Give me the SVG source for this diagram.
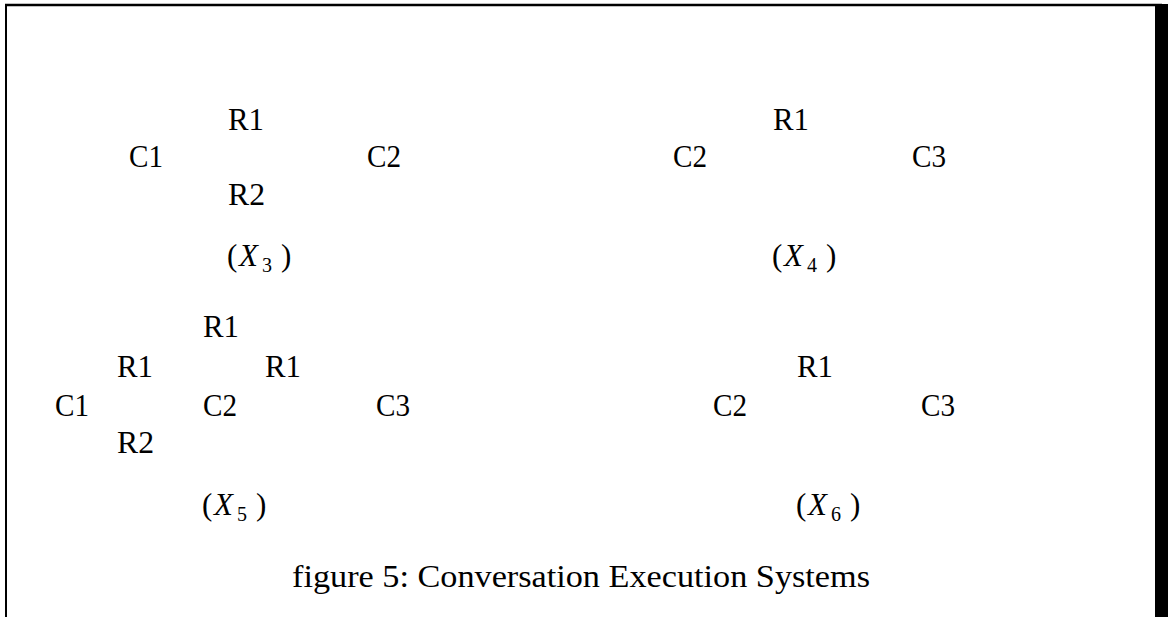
<svg xmlns="http://www.w3.org/2000/svg" width="1168" height="617" viewBox="0 0 1168 617">
<style>
.t{font-family:"Liberation Serif","DejaVu Serif",serif;font-size:31px;fill:#000}
.i{font-style:italic}
.s{font-size:20px}
</style>
<rect x="0" y="0" width="1168" height="617" fill="#fff"/>
<g id="frame">
<line x1="5" y1="5" x2="1162" y2="5" stroke="#000" stroke-width="2.5"/>
<line x1="6" y1="4" x2="6" y2="617" stroke="#000" stroke-width="2"/>
<rect x="1155" y="4" width="13" height="613" fill="#000"/>
</g>
<g id="x3">
<text class="t" x="228" y="130" textLength="36" lengthAdjust="spacingAndGlyphs">R1</text>
<text class="t" x="129" y="167" textLength="34" lengthAdjust="spacingAndGlyphs">C1</text>
<text class="t" x="367" y="167" textLength="34" lengthAdjust="spacingAndGlyphs">C2</text>
<text class="t" x="228" y="205" textLength="37" lengthAdjust="spacingAndGlyphs">R2</text>
<text class="t" x="227" y="266">(</text>
<text class="t i" x="239" y="266">X</text>
<text class="t s" x="262" y="272">3</text>
<text class="t" x="281" y="266">)</text>
</g>
<g id="x4">
<text class="t" x="773" y="130" textLength="36" lengthAdjust="spacingAndGlyphs">R1</text>
<text class="t" x="673" y="167" textLength="34" lengthAdjust="spacingAndGlyphs">C2</text>
<text class="t" x="912" y="167" textLength="34" lengthAdjust="spacingAndGlyphs">C3</text>
<text class="t" x="772" y="266">(</text>
<text class="t i" x="784" y="266">X</text>
<text class="t s" x="807" y="272">4</text>
<text class="t" x="826" y="266">)</text>
</g>
<g id="x5">
<text class="t" x="203" y="337" textLength="36" lengthAdjust="spacingAndGlyphs">R1</text>
<text class="t" x="117" y="377" textLength="36" lengthAdjust="spacingAndGlyphs">R1</text>
<text class="t" x="265" y="377" textLength="36" lengthAdjust="spacingAndGlyphs">R1</text>
<text class="t" x="55" y="416" textLength="34" lengthAdjust="spacingAndGlyphs">C1</text>
<text class="t" x="203" y="416" textLength="34" lengthAdjust="spacingAndGlyphs">C2</text>
<text class="t" x="376" y="416" textLength="34" lengthAdjust="spacingAndGlyphs">C3</text>
<text class="t" x="117" y="453" textLength="37" lengthAdjust="spacingAndGlyphs">R2</text>
<text class="t" x="202" y="515">(</text>
<text class="t i" x="214" y="515">X</text>
<text class="t s" x="237" y="521">5</text>
<text class="t" x="256" y="515">)</text>
</g>
<g id="x6">
<text class="t" x="797" y="377" textLength="36" lengthAdjust="spacingAndGlyphs">R1</text>
<text class="t" x="713" y="416" textLength="34" lengthAdjust="spacingAndGlyphs">C2</text>
<text class="t" x="921" y="416" textLength="34" lengthAdjust="spacingAndGlyphs">C3</text>
<text class="t" x="796" y="515">(</text>
<text class="t i" x="808" y="515">X</text>
<text class="t s" x="831" y="521">6</text>
<text class="t" x="850" y="515">)</text>
</g>
<g id="caption">
<text class="t" x="292" y="587" textLength="578" lengthAdjust="spacingAndGlyphs">figure 5: Conversation Execution Systems</text>
</g>
<g id="connectors"></g>
</svg>
